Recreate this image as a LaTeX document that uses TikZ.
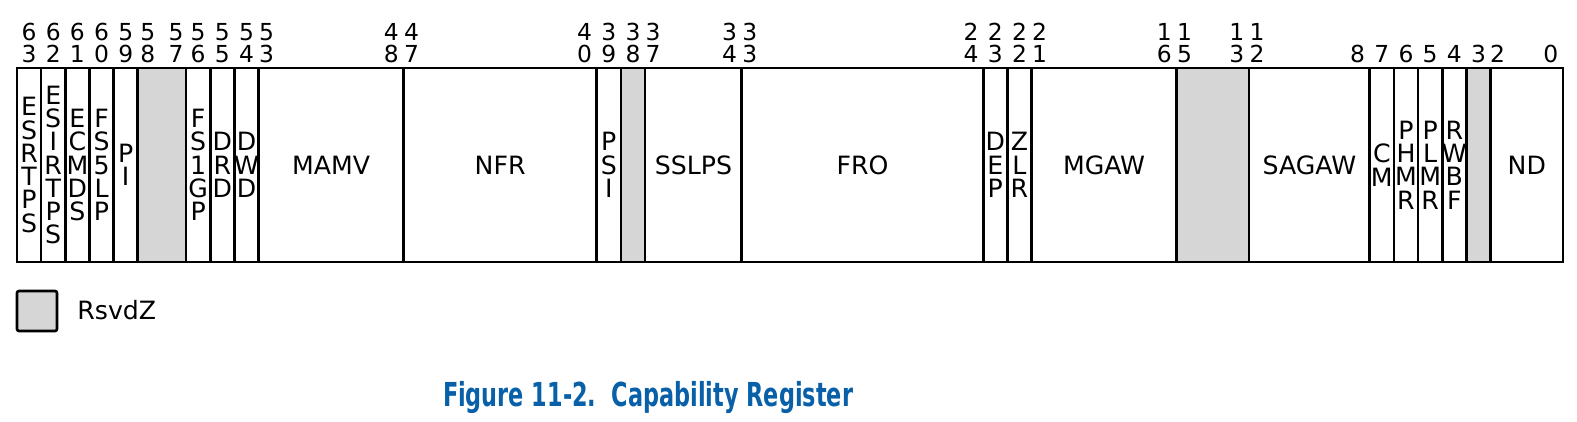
\documentclass[tikz,border=0pt]{standalone}
\usepackage{fontspec}
\setmainfont{DejaVu Sans}
\usetikzlibrary{positioning}
\definecolor{rsvdgray}{HTML}{D6D6D6}
\definecolor{figblue}{HTML}{0860A8}

\tikzset{
  field/.style={align=center,inner sep=0pt,font=\fontsize{12.6}{11.65}\selectfont},
  bitnum/.style={anchor=base,inner sep=0pt,font=\fontsize{11.7}{12}\selectfont},
  rsvd/.style={fill=rsvdgray,draw=black,line width=1.3pt},
  cell/.style={draw=black,line width=1.3pt}
}

\begin{document}
\begin{tikzpicture}[x=0.5pt,y=-0.5pt]
  \useasboundingbox (0,0) rectangle (1577,422);
  \def\bw{24.156}

  % reserved bits
  \foreach \hi/\lo in {58/57,38/38,15/13,3/3}{
    \pgfmathsetmacro\xl{17+(63-\hi)*\bw}
    \pgfmathsetmacro\xr{17+(64-\lo)*\bw}
    \draw[rsvd] (\xl,68) rectangle (\xr,262);
  }

  % fields
  \foreach \hi/\lo/\txt in {63/63/{E\\S\\R\\T\\P\\S},62/62/{E\\S\\I\\R\\T\\P\\S},
      61/61/{E\\C\\M\\D\\S},60/60/{F\\S\\5\\L\\P},59/59/{P\\I},
      56/56/{F\\S\\1\\G\\P},55/55/{D\\R\\D},54/54/{D\\W\\D},
      53/48/MAMV,47/40/NFR,39/39/{P\\S\\I},37/34/SSLPS,33/24/FRO,
      23/23/{D\\E\\P},22/22/{Z\\L\\R},21/16/MGAW,12/8/SAGAW,
      7/7/{C\\M},6/6/{P\\H\\M\\R},5/5/{P\\L\\M\\R},4/4/{R\\W\\B\\F},2/0/ND}{
    \pgfmathsetmacro\xl{17+(63-\hi)*\bw}
    \pgfmathsetmacro\xr{17+(64-\lo)*\bw}
    \draw[cell] (\xl,68) rectangle (\xr,262);
    \node[field] (f\hi) at ({(\xl+\xr)/2},165) {\txt};
  }

  % bit numbers (high end of a wide field sits a bit to the left)
  \foreach \b/\dx in {63/0,62/0,61/0,60/0,59/0,58/-2,57/2,56/0,55/0,54/0,53/-4,48/0,
      47/-4,40/0,39/0,38/0,37/-4,34/0,33/-4,24/0,23/0,22/0,21/-4,16/0,15/-4,13/0,
      12/-4,8/0,7/0,6/0,5/0,4/0,3/0,2/-5,0/0}{
    \pgfmathtruncatemacro\tens{\b/10}
    \pgfmathtruncatemacro\ones{mod(\b,10)}
    \pgfmathsetmacro\cx{17+(63.5-\b)*\bw+\dx}
    \node[bitnum] (u\b) at (\cx,63) {\ones};
    \ifnum\b>9 \node[bitnum] (t\b) at (\cx,41) {\tens}; \fi
  }

  % legend
  \draw[rsvd,rounded corners=1pt] (17,291) rectangle (57,331);
  \node[field,anchor=west] (key) at (77,310) {RsvdZ};

  \node[anchor=base,text=figblue,font=\fontsize{16.5}{18}\selectfont\bfseries] (title)
    at (648,406) {\resizebox{205pt}{\height}{Figure 11-2.\ \ Capability Register}};
\end{tikzpicture}
\end{document}
